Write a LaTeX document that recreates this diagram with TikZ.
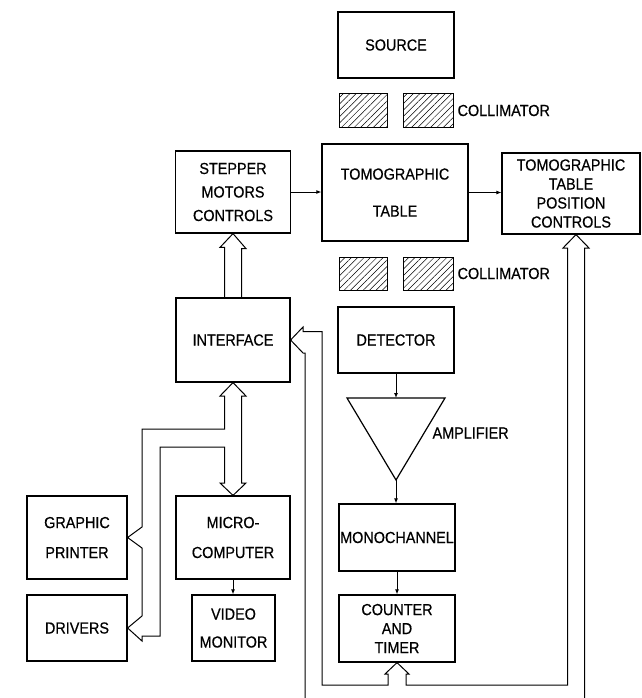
\documentclass[tikz,border=0pt]{standalone}
\usepackage{fontspec}
\setmainfont{Liberation Sans}[FakeStretch=0.9, FakeBold=0.5]
\usetikzlibrary{calc,arrows.meta,patterns.meta}

\begin{document}
\begin{tikzpicture}[x=1pt,y=-1pt,
  line width=1.2pt, line join=miter,
  blk/.style={draw, inner sep=0pt, align=center},
  txt/.style 2 args={font=\fontsize{#1}{#2}\selectfont},
  bus/.style={line width=1pt, line join=miter},
  sig/.style={line width=1pt, -{Latex[length=5pt,width=4pt]}},
  hatch/.style={draw, line width=1pt, pattern={Lines[angle=45,distance=4.5pt,line width=0.5pt]}},
  lbl/.style={anchor=west, inner sep=0pt, font=\fontsize{16}{18}\selectfont}
]
\fill[white] (0,0) rectangle (641,698);
\useasboundingbox (0,0) rectangle (641,698);

% ---- blocks ----
\node[blk, txt={16}{18}, minimum width=116pt, minimum height=66pt] (source) at (396,45) {SOURCE};
\node[blk, txt={16}{37}, minimum width=146pt, minimum height=97pt] (table) at (395,192.5) {TOMOGRAPHIC\\TABLE};
\node[blk, txt={16}{23.5}, minimum width=115pt, minimum height=82pt] (stepper) at (233,192) {STEPPER\\MOTORS\\CONTROLS};
\node[blk, txt={16}{19}, minimum width=138pt, minimum height=81pt] (posctl) at (571,193.5) {TOMOGRAPHIC\\TABLE\\POSITION\\CONTROLS};
\node[blk, txt={16}{18}, minimum width=114pt, minimum height=84pt] (iface) at (233,340) {INTERFACE};
\node[blk, txt={16}{18}, minimum width=116pt, minimum height=66pt] (detector) at (396,340) {DETECTOR};
\node[blk, txt={16}{30}, minimum width=114pt, minimum height=83pt] (micro) at (233,537.5) {MICRO-\\COMPUTER};
\node[blk, txt={16}{28}, minimum width=83pt, minimum height=66pt] (video) at (233.5,628) {VIDEO\\MONITOR};
\node[blk, txt={16}{30}, minimum width=100pt, minimum height=83pt] (printer) at (77,537.5) {GRAPHIC\\PRINTER};
\node[blk, txt={16}{18}, minimum width=100pt, minimum height=66pt] (drivers) at (77,628) {DRIVERS};
\node[blk, txt={16}{18}, minimum width=116pt, minimum height=67pt] (mono) at (397,537.5) {MONOCHANNEL};
\node[blk, txt={16}{19}, minimum width=116pt, minimum height=67pt] (counter) at (397,628.5) {COUNTER\\AND\\TIMER};

% ---- amplifier ----
\coordinate (ampL) at (347,398);
\coordinate (ampR) at (445,398);
\coordinate (amptop) at (396,398);
\coordinate (amptip) at (396,480);
\draw (ampL) -- (ampR) -- (amptip) -- cycle;
\node[lbl] (amplbl) at (432,433) {AMPLIFIER};

% ---- collimators ----
\draw[hatch] (339,94) rectangle (387,127);
\draw[hatch] (403,94) rectangle (453,127);
\node[lbl] (collA) at (457,110.5) {COLLIMATOR};
\draw[hatch] (339,257) rectangle (387,290);
\draw[hatch] (403,257) rectangle (453,290);
\node[lbl] (collB) at (457,273.5) {COLLIMATOR};

% ---- signal lines ----
\draw[sig] (stepper.east) -- (stepper.east -| table.west);
\draw[sig] (table.east) -- (table.east -| posctl.west);
\draw[sig] (detector.south) -- (amptop);
\draw[sig] (amptip) -- (amptip |- mono.north);
\draw[sig] (mono.south) -- (counter.north);
\draw[sig] (micro.south) -- (micro.south |- video.north);

% ---- hollow bus: interface to stepper motors controls ----
\draw[bus] ($(iface.north)+(-8.5,0)$) -- ++(0,-50) -- ++(-4.5,0) -- (stepper.south)
  -- ++(13,15) -- ++(-4.5,0) -- ($(iface.north)+(8.5,0)$);

% ---- hollow bus: interface, microcomputer, printer and drivers ----
\draw[bus] (224.5,429) -- (224.5,396) -- (220,396) -- (iface.south) -- (246,396)
  -- (241.5,396) -- (241.5,483) -- (246,483) -- (micro.north) -- (220,483)
  -- (224.5,483) -- (224.5,447) -- (160,447) -- (160,636) -- (142,636)
  -- (142,641) -- (drivers.east) -- (142,616) -- (142,548) -- (printer.east)
  -- (142,527) -- (142,429) -- cycle;

% ---- hollow bus: counter to interface and table position controls ----
\draw[bus] (305,698) -- (305,353) -- (303,353) -- (iface.east) -- (303,327)
  -- (303,331.5) -- (322,331.5) -- (322,685) -- (388,685) -- (388,674)
  -- (385,674) -- (counter.south) -- (409,674) -- (406,674) -- (406,685)
  -- (567.5,685) -- (567.5,248) -- (563,248) -- ($(posctl.south)+(5,0)$)
  -- (589,248) -- (584.5,248) -- (584.5,698);
\end{tikzpicture}
\end{document}
